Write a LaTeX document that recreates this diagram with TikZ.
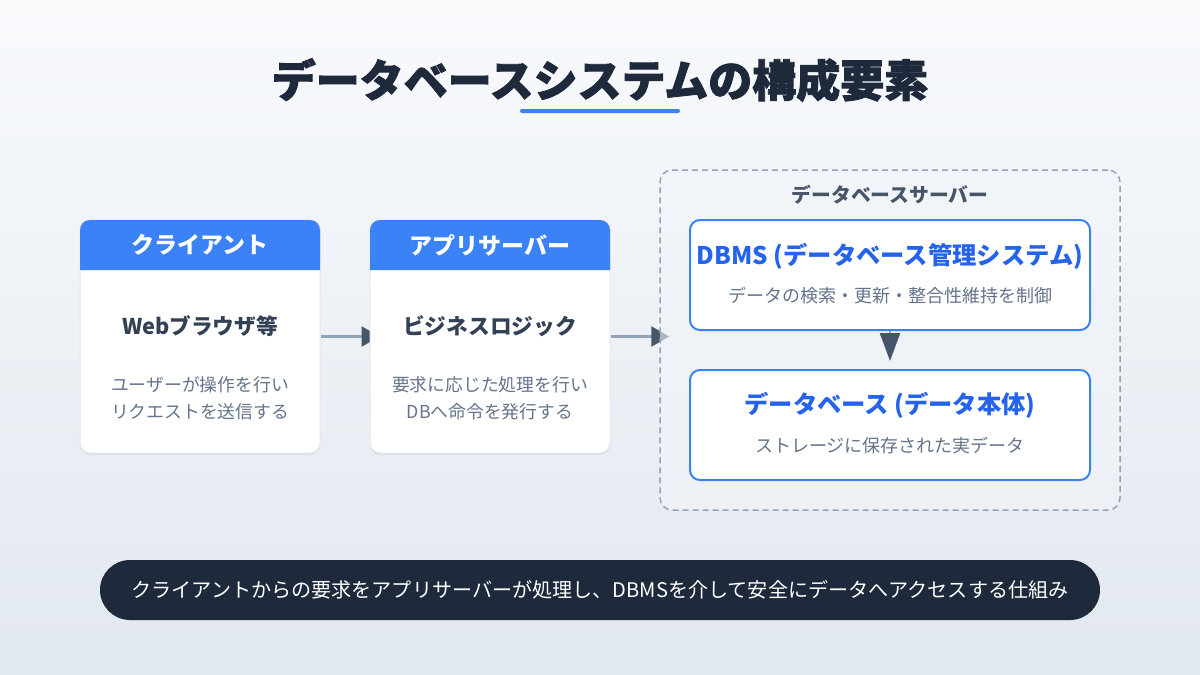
\documentclass[tikz,border=0pt]{standalone}
\usepackage{fontspec}
\setmainfont{Noto Sans CJK JP}
\newfontfamily\titlefont{Noto Sans CJK JP}[BoldFeatures={FakeBold=2}]
\usetikzlibrary{arrows.meta,shadows}
\pgfdeclarelayer{bgl}
\pgfdeclarelayer{arl}
\pgfsetlayers{bgl,arl,main}
\definecolor{bgtop}{HTML}{F8FAFC}
\definecolor{bgbot}{HTML}{E2E8F0}
\definecolor{titlec}{HTML}{1E293B}
\definecolor{accent}{HTML}{3B82F6}
\definecolor{accentdk}{HTML}{2563EB}
\definecolor{darktext}{HTML}{334155}
\definecolor{graytext}{HTML}{64748B}
\definecolor{linec}{HTML}{94A3B8}
\definecolor{headc}{HTML}{475569}
\definecolor{cardline}{HTML}{E2E8F0}
\definecolor{srvfill}{HTML}{F1F5F9}
\newcommand{\fsz}[1]{\fontsize{#1}{#1}\selectfont}
\begin{document}
\begin{tikzpicture}[x=1pt,y=-1pt,
  card/.style={draw=cardline, line width=1pt, fill=white, rounded corners=10pt,
    minimum width=240pt, minimum height=233pt, inner sep=0pt,
    drop shadow={shadow xshift=0pt, shadow yshift=-2pt, opacity=0.10, fill=black!60}},
  headtext/.style={text=white, font=\bfseries\fsz{23}},
  maintext/.style={text=darktext, font=\bfseries\fsz{21.7}},
  subtext/.style={text=graytext, font=\fsz{17.8}, align=center},
  srvbox/.style={draw=linec, line width=1.5pt, dash pattern=on 6pt off 4pt,
    fill=srvfill, fill opacity=0.6, rounded corners=12pt,
    minimum width=460pt, minimum height=340pt, inner sep=0pt},
  dbbox/.style={draw=accent, line width=2pt, fill=white, rounded corners=10pt,
    minimum width=400pt, minimum height=110pt, inner sep=0pt},
  dbtitle/.style={text=accentdk, font=\bfseries\fsz{24.3}},
  dbsub/.style={text=graytext, font=\fsz{18}},
  flow/.style={line width=2.5pt, draw=linec, -{Triangle[length=18pt,width=20pt,color=headc]}},
]
\begin{pgfonlayer}{bgl}
\fill[top color=bgtop, bottom color=bgbot] (0,0) rectangle (1200,675);
\end{pgfonlayer}
\useasboundingbox (0,0) rectangle (1200,675);

% title
\node[text=titlec, font=\titlefont\bfseries\fsz{44}] (title) at (600,80) {データベースシステムの構成要素};
\node[fill=accent, rounded corners=2pt, minimum width=160pt, minimum height=4pt, inner sep=0pt] (ul) at (600,111) {};

% client card
\node[card] (client) at (200,336.5) {};
\fill[accent] (80,270) {[rounded corners=10pt] -- (80,220) -- (320,220)} -- (320,270) -- cycle;
\node[headtext] (clienth) at (200,245) {クライアント};
\node[maintext] (clientm) at (200,326) {Webブラウザ等};
\node[subtext] (clients1) at (200,385) {ユーザーが操作を行い};
\node[subtext] (clients2) at (200,412) {リクエストを送信する};

% app card
\node[card] (app) at (490,336.5) {};
\fill[accent] (370,270) {[rounded corners=10pt] -- (370,220) -- (610,220)} -- (610,270) -- cycle;
\node[headtext] (apph) at (490,245) {アプリサーバー};
\node[maintext] (appm) at (490,326) {ビジネスロジック};
\node[subtext] (apps1) at (490,385) {要求に応じた処理を行い};
\node[subtext] (apps2) at (490,412) {DBへ命令を発行する};

% db server
\node[srvbox] (srv) at (890,340) {};
\node[text=headc, font=\bfseries\fsz{19.8}] (srvl) at (890,195) {データベースサーバー};
\node[dbbox] (dbms) at (890,275) {};
\node[dbtitle] (dbmst) at (890,256) {DBMS (データベース管理システム)};
\node[dbsub] (dbmss) at (890,296) {データの検索・更新・整合性維持を制御};
\node[dbbox] (db) at (890,425) {};
\node[dbtitle] (dbt) at (890,405) {データベース (データ本体)};
\node[dbsub] (dbs) at (890,446) {ストレージに保存された実データ};

% arrows
\begin{pgfonlayer}{arl}
\draw[flow] (client.east) -- ([xshift=10pt]app.west);
\draw[flow] (app.east) -- ([xshift=10pt]srv.west |- app.east);
\end{pgfonlayer}
\draw[line width=2.5pt, draw=linec, -{Triangle[length=28pt,width=20pt,color=headc]}] (dbms.south) -- ([yshift=8pt]db.north);

% banner
\node[fill=titlec, rounded corners=30pt, minimum width=1000pt, minimum height=60pt, inner sep=0pt] (banner) at (600,590) {};
\node[text=white, font=\fsz{20.1}] (bannert) at (600,590) {クライアントからの要求をアプリサーバーが処理し、DBMSを介して安全にデータへアクセスする仕組み};
\end{tikzpicture}
\end{document}
